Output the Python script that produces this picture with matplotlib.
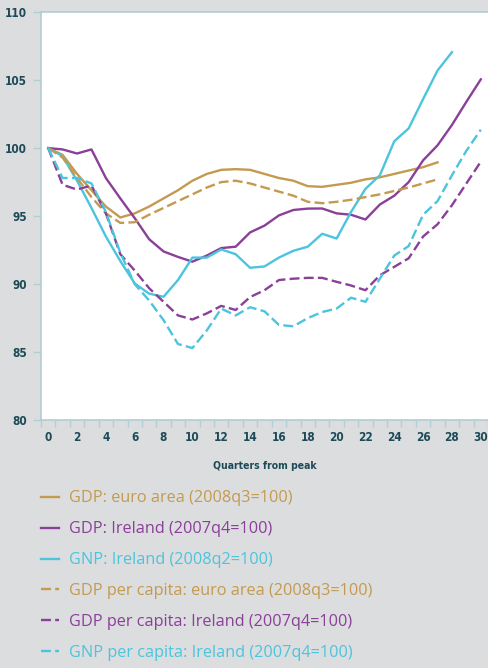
import numpy as np
import matplotlib
matplotlib.use('Agg')
import matplotlib.pyplot as plt

# quarters from peak
q_ea = np.arange(28)
q_gnp = np.arange(29)
q_irl = np.arange(31)

gdp_ea = [100, 99.5, 98.1, 96.9, 95.7, 94.9, 95.2, 95.7, 96.3, 96.9, 97.6, 98.1, 98.4, 98.45,
          98.4, 98.1, 97.8, 97.6, 97.2, 97.15, 97.3, 97.45, 97.7, 97.85, 98.1, 98.35, 98.6, 98.95]
gdp_irl = [100, 99.9, 99.6, 99.9, 97.8, 96.3, 94.85, 93.3, 92.4, 92.0, 91.65, 92.1, 92.65, 92.75,
           93.8, 94.3, 95.05, 95.45, 95.55, 95.56, 95.2, 95.1, 94.75, 95.85, 96.5, 97.5, 99.1,
           100.2, 101.7, 103.4, 105.05]
gnp_irl = [100, 99.4, 97.6, 95.6, 93.5, 91.7, 90.05, 89.3, 89.07, 90.3, 91.95, 91.95, 92.55, 92.2,
           91.2, 91.3, 91.95, 92.45, 92.75, 93.7, 93.35, 95.3, 97.0, 98.0, 100.5, 101.45, 103.6,
           105.7, 107.05]
gdp_pc_ea = [100, 99.3, 97.8, 96.4, 95.2, 94.5, 94.55, 95.1, 95.6, 96.1, 96.6, 97.1, 97.5, 97.6,
             97.4, 97.1, 96.8, 96.5, 96.05, 95.95, 96.05, 96.2, 96.4, 96.6, 96.85, 97.1, 97.4, 97.7]
gdp_pc_irl = [100, 97.3, 96.95, 97.25, 95.2, 92.2, 91.0, 89.7, 88.7, 87.7, 87.4, 87.85, 88.4, 88.1,
              89.05, 89.55, 90.3, 90.4, 90.46, 90.46, 90.17, 89.9, 89.55, 90.65, 91.27, 91.9, 93.5,
              94.4, 95.8, 97.4, 99.0]
gnp_pc_irl = [100, 97.8, 97.8, 97.4, 95.3, 92.3, 90.0, 88.8, 87.35, 85.6, 85.3, 86.6, 88.2, 87.7,
              88.3, 88.0, 87.0, 86.9, 87.5, 87.95, 88.2, 89.0, 88.7, 90.4, 92.1, 92.8, 95.1, 96.1,
              98.0, 99.8, 101.35]

labels = ['GDP: euro area (2008q3=100)', 'GDP: Ireland (2007q4=100)', 'GNP: Ireland (2008q2=100)',
          'GDP per capita: euro area (2008q3=100)', 'GDP per capita: Ireland (2007q4=100)',
          'GNP per capita: Ireland (2007q4=100)']

gold = '#C49A50'
purple = '#8A3F98'
cyan = '#4CC4DD'
bg = '#DCDDDF'
spine_col = '#B3CDD5'
txt_col = '#1C4A57'
dash = (0, (4.2, 1.8))

fig = plt.figure(figsize=(4.88, 6.68), dpi=100, facecolor=bg)
ax = fig.add_axes([0.084, 0.371, 0.916, 0.611])
ax.set_facecolor('white')

lw = 1.7
ax.plot(q_ea, gdp_ea, color=gold, lw=lw, label=labels[0])
ax.plot(q_irl, gdp_irl, color=purple, lw=lw, label=labels[1])
ax.plot(q_gnp, gnp_irl, color=cyan, lw=lw, label=labels[2])
ax.plot(q_ea, gdp_pc_ea, color=gold, lw=lw, ls=dash, label=labels[3])
ax.plot(q_irl, gdp_pc_irl, color=purple, lw=lw, ls=dash, label=labels[4])
ax.plot(q_irl, gnp_pc_irl, color=cyan, lw=lw, ls=dash, label=labels[5])

ax.set_xlim(-0.5, 30.5)
ax.set_ylim(80, 110)

# category style ticks between quarters, labels on even quarters
ax.set_xticks(np.arange(-0.5, 31, 1), minor=True)
ax.set_xticks(np.arange(0, 31, 2))
ax.tick_params(axis='x', which='minor', length=5, color=spine_col, width=1)
ax.tick_params(axis='x', which='major', length=0, pad=8)
ax.set_yticks(np.arange(80, 111, 5))
ax.tick_params(axis='y', length=6, color=spine_col, width=1, pad=4)

for lab in ax.get_xticklabels() + ax.get_yticklabels():
    lab.set_family('DejaVu Sans')
    lab.set_stretch('condensed')
    lab.set_fontweight('bold')
    lab.set_color(txt_col)
    lab.set_fontsize(8.5)

for s in ['left', 'bottom', 'top']:
    ax.spines[s].set_color(spine_col)
    ax.spines[s].set_linewidth(1.2)
ax.spines['right'].set_visible(False)

ax.set_xlabel('Quarters from peak', color=txt_col, fontsize=7.5, fontweight='bold',
              family='DejaVu Sans', fontstretch='condensed', labelpad=12)

leg = ax.legend(loc='upper left', bbox_to_anchor=(0.084, 0.266), bbox_transform=fig.transFigure,
                frameon=False, labelcolor='linecolor', handlelength=1.1, handletextpad=0.6,
                labelspacing=0.92, borderaxespad=0, borderpad=0,
                prop={'family': ['Open Sans', 'DejaVu Sans'], 'size': 11.7})

fig.savefig('out.png', dpi=100, facecolor=bg)
